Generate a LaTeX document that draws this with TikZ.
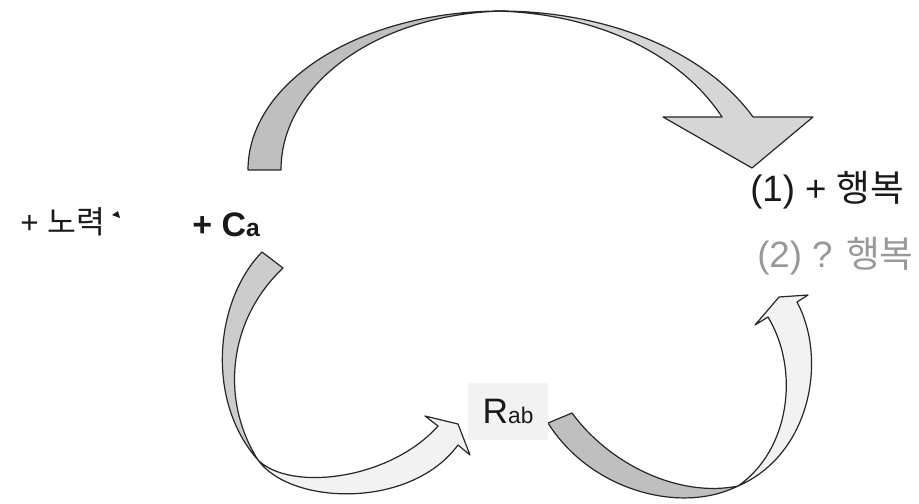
\documentclass[tikz,border=0pt]{standalone}
\usepackage{fontspec}
\setmainfont{Liberation Sans}
\newfontfamily\kr{Noto Sans CJK KR}
\begin{document}
\begin{tikzpicture}[x=0.75pt,y=-0.75pt,
    band/.style={draw=black!85,line width=0.9pt,line join=round},
    back/.style={band,fill=black!25},
    front/.style={band,fill=black!5},
    lbl/.style={inner sep=0pt,anchor=base west,text=black!90,
                font=\fontsize{27.5}{32}\selectfont}]
\useasboundingbox (0,0) rectangle (919,503);
% top arrow
\draw[back] (248,170) .. controls (248,82) and (361,10) .. (505,11)
    .. controls (379,13) and (281,83) .. (281,170) -- cycle;
\draw[band,fill=black!16] (495,11) .. controls (607,10) and (706,52) .. (753,117)
    -- (813,117) -- (752,168) -- (663,117) -- (722,117)
    .. controls (680,53) and (595,13) .. (495,11) -- cycle;
% lower left arrow
\draw[back,fill=black!20] (262,252) .. controls (215,300) and (205,400) .. (258,460)
    .. controls (220,400) and (228,320) .. (283,268) -- cycle;
\draw[front] (258,460) .. controls (290,492) and (390,480) .. (438,426)
    -- (425,416) -- (458,424) -- (470,455) -- (458,445)
    .. controls (410,510) and (290,505) .. (258,460) -- cycle;
% lower right arrow
\draw[back] (548,423) .. controls (590,490) and (680,515) .. (738,486)
    .. controls (680,498) and (610,465) .. (572,413) -- cycle;
\draw[front] (738,486) .. controls (790,450) and (800,370) .. (768,317)
    -- (755,325) -- (779,297) -- (808,295) -- (797,302)
    .. controls (828,360) and (810,455) .. (738,486) -- cycle;
% labels
\node[lbl,font=\fontsize{23.5}{28}\selectfont] (effort) at (20,233) {+ {\kr 노력}};
\fill[black!90] (112,215) -- (118,211) -- (120,218) -- cycle;
\node[lbl,font=\bfseries\fontsize{25.5}{30}\selectfont] (ca) at (192,236)
    {+ C{\fontsize{18.5}{20}\selectfont a}};
\node[lbl] (happyA) at (750,201) {(1) + {\kr 행복}};
\node[lbl,text=black!40] (happyB) at (757,267) {(2) ? {\kr 행복}};
\node[fill=black!5,inner sep=0pt,minimum width=60pt,minimum height=42.75pt,
    text=black!90,font=\fontsize{26.5}{30}\selectfont] (rab) at (508,411.5)
    {R{\fontsize{17}{20}\selectfont ab}};
\end{tikzpicture}
\end{document}
